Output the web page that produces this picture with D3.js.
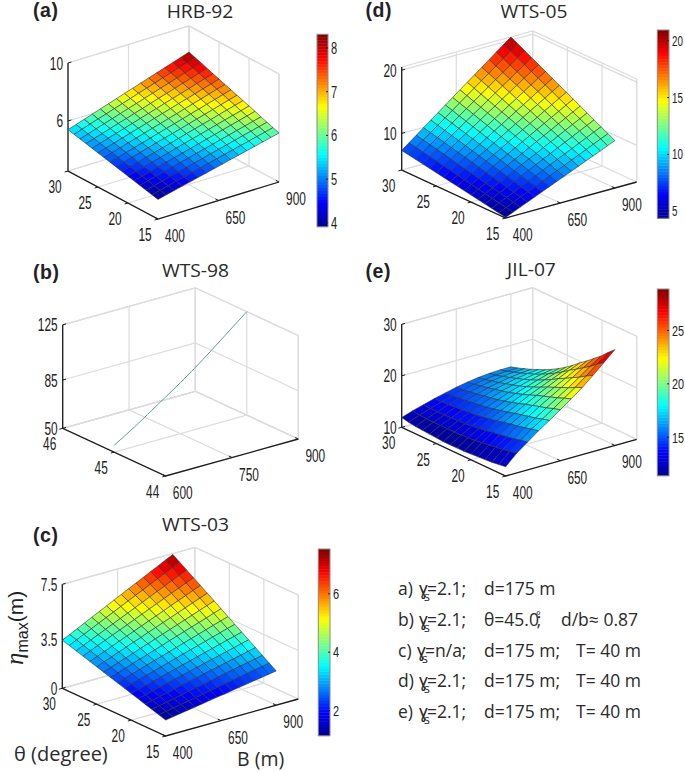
<!DOCTYPE html>
<html>
<head>
<meta charset="utf-8">
<script src="https://cdn.jsdelivr.net/npm/d3@7"></script>
<style>
  html, body { margin: 0; padding: 0; background: #fff; }
  svg { display: block; }
  text { font-family: "Liberation Sans", Arial, sans-serif; fill: #222; }
  .label { font-family: "Open Sans", sans-serif; fill: #2a2a2a; }
</style>
</head>
<body>
<svg id="chart" width="685" height="772"></svg>
<script>
// angle and width values along the surface grids
var thetaNodes = [15, 16, 17, 18, 19, 20, 21, 22, 23, 24, 25, 26, 27, 28, 29, 30];
var bNodes = [400, 433.3, 466.7, 500, 533.3, 566.7, 600, 633.3, 666.7, 700, 733.3, 766.7, 800, 833.3, 866.7, 900];
var bNodesCoarse = [400, 450, 500, 550, 600, 650, 700, 750, 800, 850, 900];

// eta_max, rows follow thetaNodes, columns follow bNodes
var hrb92 = [
  [3.90, 4.04, 4.17, 4.31, 4.44, 4.58, 4.71, 4.85, 4.98, 5.12, 5.25, 5.39, 5.52, 5.66, 5.79, 5.93],
  [4.00, 4.14, 4.28, 4.42, 4.55, 4.69, 4.83, 4.97, 5.11, 5.25, 5.39, 5.53, 5.66, 5.80, 5.94, 6.08],
  [4.10, 4.24, 4.38, 4.53, 4.67, 4.81, 4.95, 5.09, 5.24, 5.38, 5.52, 5.66, 5.81, 5.95, 6.09, 6.23],
  [4.20, 4.35, 4.49, 4.64, 4.78, 4.93, 5.07, 5.22, 5.36, 5.51, 5.66, 5.80, 5.95, 6.09, 6.24, 6.38],
  [4.30, 4.45, 4.60, 4.75, 4.90, 5.05, 5.19, 5.34, 5.49, 5.64, 5.79, 5.94, 6.09, 6.24, 6.39, 6.54],
  [4.40, 4.55, 4.70, 4.86, 5.01, 5.16, 5.31, 5.47, 5.62, 5.77, 5.92, 6.08, 6.23, 6.38, 6.53, 6.69],
  [4.50, 4.66, 4.81, 4.97, 5.12, 5.28, 5.43, 5.59, 5.75, 5.90, 6.06, 6.21, 6.37, 6.53, 6.68, 6.84],
  [4.60, 4.76, 4.92, 5.08, 5.24, 5.40, 5.56, 5.71, 5.87, 6.03, 6.19, 6.35, 6.51, 6.67, 6.83, 6.99],
  [4.70, 4.86, 5.03, 5.19, 5.35, 5.51, 5.68, 5.84, 6.00, 6.16, 6.33, 6.49, 6.65, 6.81, 6.98, 7.14],
  [4.80, 4.97, 5.13, 5.30, 5.46, 5.63, 5.80, 5.96, 6.13, 6.29, 6.46, 6.63, 6.79, 6.96, 7.13, 7.29],
  [4.90, 5.07, 5.24, 5.41, 5.58, 5.75, 5.92, 6.09, 6.26, 6.43, 6.60, 6.76, 6.93, 7.10, 7.27, 7.44],
  [5.00, 5.17, 5.35, 5.52, 5.69, 5.86, 6.04, 6.21, 6.38, 6.56, 6.73, 6.90, 7.07, 7.25, 7.42, 7.59],
  [5.10, 5.28, 5.45, 5.63, 5.81, 5.98, 6.16, 6.33, 6.51, 6.69, 6.86, 7.04, 7.22, 7.39, 7.57, 7.74],
  [5.20, 5.38, 5.56, 5.74, 5.92, 6.10, 6.28, 6.46, 6.64, 6.82, 7.00, 7.18, 7.36, 7.54, 7.72, 7.90],
  [5.30, 5.48, 5.67, 5.85, 6.03, 6.22, 6.40, 6.58, 6.77, 6.95, 7.13, 7.32, 7.50, 7.68, 7.86, 8.05],
  [5.40, 5.59, 5.77, 5.96, 6.15, 6.33, 6.52, 6.71, 6.89, 7.08, 7.27, 7.45, 7.64, 7.83, 8.01, 8.20]
];
var wts03 = [
  [1.15, 1.24, 1.33, 1.41, 1.50, 1.59, 1.68, 1.77, 1.85, 1.94, 2.03, 2.12, 2.21, 2.29, 2.38, 2.47],
  [1.30, 1.40, 1.50, 1.60, 1.70, 1.80, 1.90, 2.00, 2.10, 2.20, 2.30, 2.40, 2.50, 2.60, 2.70, 2.80],
  [1.46, 1.57, 1.68, 1.79, 1.91, 2.02, 2.13, 2.24, 2.35, 2.46, 2.58, 2.69, 2.80, 2.91, 3.02, 3.13],
  [1.61, 1.73, 1.86, 1.98, 2.10, 2.23, 2.35, 2.47, 2.60, 2.72, 2.84, 2.97, 3.09, 3.21, 3.34, 3.46],
  [1.77, 1.90, 2.04, 2.17, 2.31, 2.44, 2.58, 2.71, 2.85, 2.98, 3.12, 3.25, 3.39, 3.52, 3.66, 3.79],
  [1.92, 2.07, 2.21, 2.36, 2.51, 2.65, 2.80, 2.95, 3.09, 3.24, 3.39, 3.53, 3.68, 3.83, 3.97, 4.12],
  [2.08, 2.24, 2.40, 2.55, 2.71, 2.87, 3.03, 3.19, 3.35, 3.51, 3.66, 3.82, 3.98, 4.14, 4.30, 4.45],
  [2.23, 2.40, 2.57, 2.74, 2.91, 3.08, 3.25, 3.42, 3.59, 3.76, 3.93, 4.10, 4.27, 4.44, 4.61, 4.78],
  [2.39, 2.57, 2.75, 2.94, 3.12, 3.30, 3.48, 3.66, 3.85, 4.03, 4.21, 4.39, 4.57, 4.75, 4.94, 5.12],
  [2.54, 2.73, 2.93, 3.12, 3.31, 3.51, 3.70, 3.90, 4.09, 4.28, 4.48, 4.67, 4.86, 5.06, 5.25, 5.45],
  [2.70, 2.91, 3.11, 3.32, 3.52, 3.73, 3.93, 4.14, 4.34, 4.55, 4.75, 4.96, 5.16, 5.37, 5.57, 5.78],
  [2.85, 3.07, 3.28, 3.50, 3.72, 3.94, 4.15, 4.37, 4.59, 4.80, 5.02, 5.24, 5.46, 5.67, 5.89, 6.11],
  [3.01, 3.24, 3.47, 3.70, 3.93, 4.15, 4.38, 4.61, 4.84, 5.07, 5.30, 5.53, 5.76, 5.98, 6.21, 6.44],
  [3.16, 3.40, 3.64, 3.88, 4.12, 4.36, 4.60, 4.84, 5.08, 5.33, 5.57, 5.81, 6.05, 6.29, 6.53, 6.77],
  [3.32, 3.57, 3.82, 4.08, 4.33, 4.58, 4.83, 5.09, 5.34, 5.59, 5.84, 6.10, 6.35, 6.60, 6.85, 7.10],
  [3.47, 3.73, 4.00, 4.26, 4.53, 4.79, 5.05, 5.32, 5.58, 5.85, 6.11, 6.37, 6.64, 6.90, 7.17, 7.43]
];
var wts05 = [
  [4.30, 4.79, 5.29, 5.78, 6.27, 6.77, 7.26, 7.75, 8.25, 8.74, 9.23, 9.73, 10.22, 10.71, 11.21, 11.70],
  [4.50, 5.02, 5.54, 6.06, 6.58, 7.10, 7.61, 8.13, 8.65, 9.17, 9.69, 10.21, 10.73, 11.25, 11.77, 12.29],
  [4.70, 5.24, 5.79, 6.33, 6.88, 7.42, 7.97, 8.51, 9.06, 9.60, 10.15, 10.69, 11.24, 11.78, 12.33, 12.87],
  [4.90, 5.47, 6.04, 6.61, 7.18, 7.75, 8.32, 8.89, 9.47, 10.04, 10.61, 11.18, 11.75, 12.32, 12.89, 13.46],
  [5.10, 5.70, 6.29, 6.89, 7.49, 8.08, 8.68, 9.28, 9.87, 10.47, 11.07, 11.66, 12.26, 12.86, 13.45, 14.05],
  [5.30, 5.92, 6.54, 7.17, 7.79, 8.41, 9.03, 9.65, 10.28, 10.90, 11.52, 12.14, 12.76, 13.39, 14.01, 14.63],
  [5.50, 6.15, 6.80, 7.44, 8.09, 8.74, 9.39, 10.04, 10.68, 11.33, 11.98, 12.63, 13.28, 13.92, 14.57, 15.22],
  [5.70, 6.37, 7.05, 7.72, 8.40, 9.07, 9.74, 10.42, 11.09, 11.77, 12.44, 13.11, 13.79, 14.46, 15.14, 15.81],
  [5.90, 6.60, 7.30, 8.00, 8.70, 9.40, 10.10, 10.80, 11.50, 12.20, 12.90, 13.60, 14.30, 15.00, 15.70, 16.40],
  [6.10, 6.83, 7.55, 8.28, 9.00, 9.73, 10.45, 11.18, 11.90, 12.63, 13.35, 14.08, 14.80, 15.53, 16.26, 16.98],
  [6.30, 7.05, 7.80, 8.55, 9.31, 10.06, 10.81, 11.56, 12.31, 13.06, 13.81, 14.56, 15.32, 16.07, 16.82, 17.57],
  [6.50, 7.28, 8.05, 8.83, 9.61, 10.39, 11.16, 11.94, 12.72, 13.49, 14.27, 15.05, 15.83, 16.60, 17.38, 18.16],
  [6.70, 7.50, 8.31, 9.11, 9.91, 10.71, 11.52, 12.32, 13.12, 13.93, 14.73, 15.53, 16.33, 17.14, 17.94, 18.74],
  [6.90, 7.73, 8.56, 9.39, 10.21, 11.04, 11.87, 12.70, 13.53, 14.36, 15.19, 16.02, 16.84, 17.67, 18.50, 19.33],
  [7.10, 7.95, 8.81, 9.66, 10.52, 11.37, 12.23, 13.08, 13.94, 14.79, 15.65, 16.50, 17.36, 18.21, 19.07, 19.92],
  [7.30, 8.18, 9.06, 9.94, 10.82, 11.70, 12.58, 13.46, 14.34, 15.22, 16.10, 16.98, 17.86, 18.74, 19.62, 20.50]
];
// columns follow bNodesCoarse
var jil07 = [
  [11.8, 13.8, 15.4, 17.0, 18.4, 19.9, 21.4, 23.0, 24.8, 26.7, 28.6],
  [11.6, 13.54, 15.11, 16.69, 18.05, 19.48, 20.92, 22.41, 24.03, 25.74, 27.4],
  [11.4, 13.27, 14.77, 16.31, 17.62, 18.99, 20.34, 21.70, 23.16, 24.66, 26.1],
  [11.3, 13.09, 14.55, 16.04, 17.30, 18.62, 19.89, 21.14, 22.44, 23.77, 25.0],
  [11.2, 12.91, 14.31, 15.75, 16.97, 18.20, 19.40, 20.53, 21.69, 22.85, 23.9],
  [11.1, 12.74, 14.09, 15.47, 16.63, 17.80, 18.94, 19.96, 21.00, 22.02, 22.9],
  [11.0, 12.54, 13.81, 15.13, 16.23, 17.32, 18.38, 19.29, 20.20, 21.07, 21.8],
  [11.0, 12.44, 13.63, 14.86, 15.89, 16.90, 17.87, 18.69, 19.49, 20.21, 20.8],
  [11.0, 12.34, 13.46, 14.61, 15.57, 16.51, 17.41, 18.14, 18.82, 19.43, 19.9],
  [11.0, 12.26, 13.30, 14.39, 15.28, 16.16, 16.98, 17.63, 18.23, 18.74, 19.1],
  [11.1, 12.27, 13.22, 14.24, 15.07, 15.87, 16.63, 17.20, 17.71, 18.12, 18.4],
  [11.2, 12.28, 13.17, 14.12, 14.90, 15.63, 16.32, 16.82, 17.26, 17.60, 17.8],
  [11.3, 12.29, 13.11, 13.98, 14.69, 15.36, 15.98, 16.43, 16.79, 17.06, 17.2],
  [11.4, 12.31, 13.07, 13.87, 14.53, 15.14, 15.71, 16.10, 16.40, 16.62, 16.7],
  [11.6, 12.41, 13.08, 13.80, 14.38, 14.93, 15.42, 15.75, 16.00, 16.16, 16.2],
  [11.9, 12.6, 13.2, 13.8, 14.3, 14.8, 15.2, 15.5, 15.7, 15.8, 15.8]
];

// WTS-98 is a single curve at theta = 45
var wts98B = [600, 650, 700, 750, 800, 850, 900];
var wts98Eta = [55, 65, 76, 87, 99, 112, 125];

var legendTags = ["a)", "b)", "c)", "d)", "e)"];
var legendGammas = ["=2.1;", "=2.1;", "=n/a;", "=2.1;", "=2.1;"];
var legendSecond = ["d=175 m", "θ=45.0", "d=175 m;", "d=175 m;", "d=175 m;"];
var legendThird = ["", "d/b≈ 0.87", "T= 40 m", "T= 40 m", "T= 40 m"];

var jetStops = [0, 0.125, 0.375, 0.625, 0.875, 1];
var jetColors = ["#00008f", "#0000ff", "#00ffff", "#ffff00", "#ff0000", "#800000"];

var panels = [
  { tag: "(a)", tagX: 33, tagY: 17, title: "HRB-92", titleX: 200, titleY: 18,
    front: [158, 219], left: [68, 171], right: [279, 182], h: 108,
    bDomain: [400, 900], thetaDomain: [15, 30], zDomain: [2.55, 10],
    bTicks: [400, 650, 900], thetaTicks: [15, 20, 25, 30], zTicks: [6, 10],
    grid: hrb92, bGrid: bNodes,
    bar: { x: 317, w: 11, y: 34.3, y2: 226.7, domain: [3.9, 8.3], ticks: [4, 5, 6, 7, 8], size: 17, sx: 0.65 } },
  { tag: "(d)", tagX: 365.5, tagY: 17, title: "WTS-05", titleX: 534, titleY: 18,
    front: [505.7, 218], left: [401.7, 170], right: [636.7, 182], h: 103,
    bDomain: [400, 1000], thetaDomain: [15, 30], zDomain: [4.2, 20.5],
    bTicks: [400, 650, 900], thetaTicks: [15, 20, 25, 30], zTicks: [10, 20],
    grid: wts05, bGrid: bNodes,
    bar: { x: 657.3, w: 11.7, y: 30, y2: 218.3, domain: [4.33, 20.9], ticks: [5, 10, 15, 20], size: 14, sx: 0.7 } },
  { tag: "(b)", tagX: 33, tagY: 279, title: "WTS-98", titleX: 195.5, titleY: 277,
    front: [165.7, 476], left: [62.7, 428.3], right: [298.3, 439], h: 103.5,
    bDomain: [600, 900], thetaDomain: [44, 46], zDomain: [50, 125],
    bTicks: [600, 750, 900], thetaTicks: [44, 45, 46], zTicks: [50, 85, 125],
    line: { b: wts98B, eta: wts98Eta, theta: 45 } },
  { tag: "(e)", tagX: 365.5, tagY: 278, title: "JIL-07", titleX: 531.5, titleY: 276,
    front: [505.7, 476], left: [401.7, 427.3], right: [636.7, 439.3], h: 103,
    bDomain: [400, 1000], thetaDomain: [15, 30], zDomain: [10, 30],
    bTicks: [400, 650, 900], thetaTicks: [15, 20, 25, 30], zTicks: [10, 20, 30],
    grid: jil07, bGrid: bNodesCoarse,
    bar: { x: 657.3, w: 11.7, y: 289, y2: 475.7, domain: [11.35, 28.84], ticks: [15, 20, 25], size: 15, sx: 0.72 } },
  { tag: "(c)", tagX: 33, tagY: 542, title: "WTS-03", titleX: 195.5, titleY: 531,
    front: [165.7, 736], left: [62.3, 688.3], right: [298.3, 699], h: 104,
    bDomain: [400, 1000], thetaDomain: [15, 30], zDomain: [0, 7.5],
    bTicks: [400, 650, 900], thetaTicks: [15, 20, 25, 30], zTicks: [0, 3.5, 7.5],
    grid: wts03, bGrid: bNodes,
    bar: { x: 318.3, w: 11.7, y: 549, y2: 735.7, domain: [1.12, 7.52], ticks: [2, 4, 6], size: 14.5, sx: 0.76 } }
];

var svg = d3.select("#chart");
var defs = svg.append("defs");
defs.append("filter").attr("id", "soft").append("feGaussianBlur").attr("stdDeviation", 0.35);

var jet = d3.scaleLinear().domain(jetStops).range(jetColors);
var GRID = "#dcdce0", AXIS = "#1c1c1c";
var TICK_SIZE = 18, TICK_SX = 0.66;

// narrow tick label, the original figure was squeezed sideways
function tickText(g, x, y, txt, anchor)
{
  return g.append("text")
          .attr("transform", "translate(" + x + "," + y + ") scale(" + TICK_SX + ",1)")
          .attr("text-anchor", anchor)
          .attr("font-size", TICK_SIZE)
          .text(txt);
}

function drawPanel(p)
{
  var g = svg.append("g");
  var xS = d3.scaleLinear().domain(p.bDomain).range([0, 1]);
  var yS = d3.scaleLinear().domain(p.thetaDomain).range([0, 1]);
  var zS = d3.scaleLinear().domain(p.zDomain).range([0, 1]);
  var rx = p.right[0] - p.front[0], ry = p.right[1] - p.front[1];
  var lx = p.left[0] - p.front[0], ly = p.left[1] - p.front[1];

  function project(b, t, z)
  {
    return [p.front[0] + xS(b) * rx + yS(t) * lx,
            p.front[1] + xS(b) * ry + yS(t) * ly - zS(z) * p.h];
  }

  var bLo = p.bDomain[0], bHi = p.bDomain[1];
  var tLo = p.thetaDomain[0], tHi = p.thetaDomain[1];
  var zLo = p.zDomain[0], zHi = p.zDomain[1];
  var lineGen = d3.line();

  function gridLine(pts, color, width)
  {
    g.append("path").attr("d", lineGen(pts)).attr("fill", "none")
     .attr("stroke", color || GRID).attr("stroke-width", width || 1.2);
  }

  // walls and floor behind the surface
  p.zTicks.concat([zLo, zHi]).forEach(function(z)
  {
    gridLine([project(bLo, tHi, z), project(bHi, tHi, z), project(bHi, tLo, z)]);
  });
  p.bTicks.forEach(function(b)
  {
    gridLine([project(b, tHi, zHi), project(b, tHi, zLo), project(b, tLo, zLo)]);
  });
  p.thetaTicks.forEach(function(t)
  {
    gridLine([project(bHi, t, zHi), project(bHi, t, zLo), project(bLo, t, zLo)]);
  });
  gridLine([project(bHi, tHi, zLo), project(bHi, tHi, zHi)]);
  gridLine([project(bHi, tLo, zLo), project(bHi, tLo, zHi)]);

  // black front axes
  gridLine([project(bLo, tHi, zHi), project(bLo, tHi, zLo), project(bLo, tLo, zLo), project(bHi, tLo, zLo)], AXIS, 1.3);
  p.zTicks.forEach(function(z)
  {
    var a = project(bLo, tHi, z), n = Math.hypot(rx, ry);
    gridLine([a, [a[0] + 3.5 * rx / n, a[1] + 3.5 * ry / n]], AXIS, 1);
    tickText(g, a[0] - 5, a[1] + 6.5, String(z), "end");
  });
  p.thetaTicks.forEach(function(t)
  {
    var a = project(bLo, t, zLo), n = Math.hypot(rx, ry);
    gridLine([a, [a[0] - 3.5 * rx / n, a[1] - 3.5 * ry / n]], AXIS, 1);
    tickText(g, a[0] - 13, a[1] + 22, String(t), "middle");
  });
  p.bTicks.forEach(function(b)
  {
    var a = project(b, tLo, zLo), n = Math.hypot(lx, ly);
    gridLine([a, [a[0] + 3.5 * lx / n, a[1] + 3.5 * ly / n]], AXIS, 1);
    tickText(g, a[0] + 17, a[1] + 23, String(b), "middle");
  });

  // surface cells back to front
  if (p.grid)
  {
    var cells = [];
    for (var i = thetaNodes.length - 2; i >= 0; i--)
    {
      for (var j = p.bGrid.length - 2; j >= 0; j--)
      {
        cells.push({ i: i, j: j });
      }
    }
    var colorS = d3.scaleLinear().domain(p.bar.domain).range([0, 1]).clamp(true);
    g.append("g")
     .attr("filter", "url(#soft)")
     .selectAll("path")
     .data(cells)
     .enter()
     .append("path")
     .attr("d", function(c)
     {
       return lineGen([
         project(p.bGrid[c.j], thetaNodes[c.i], p.grid[c.i][c.j]),
         project(p.bGrid[c.j + 1], thetaNodes[c.i], p.grid[c.i][c.j + 1]),
         project(p.bGrid[c.j + 1], thetaNodes[c.i + 1], p.grid[c.i + 1][c.j + 1]),
         project(p.bGrid[c.j], thetaNodes[c.i + 1], p.grid[c.i + 1][c.j])
       ]) + "Z";
     })
     .attr("fill", function(c)
     {
       var v = (p.grid[c.i][c.j] + p.grid[c.i][c.j + 1] + p.grid[c.i + 1][c.j + 1] + p.grid[c.i + 1][c.j]) / 4;
       return jet(colorS(v));
     })
     .attr("stroke", "#333")
     .attr("stroke-width", 0.6)
     .attr("stroke-linejoin", "round");
  }

  if (p.line)
  {
    var pts = p.line.b.map(function(b, i) { return project(b, p.line.theta, p.line.eta[i]); });
    g.append("path").attr("d", d3.line().curve(d3.curveMonotoneX)(pts))
     .attr("fill", "none").attr("stroke", "#5f9f96").attr("stroke-width", 1);
  }

  g.append("text").attr("x", p.tagX).attr("y", p.tagY)
   .attr("font-size", 19.5).attr("font-weight", "bold").attr("letter-spacing", 0.6).text(p.tag);
  g.append("text").attr("class", "label")
   .attr("transform", "translate(" + p.titleX + "," + p.titleY + ") scale(1.1,1)")
   .attr("text-anchor", "middle").attr("font-size", 17.5).text(p.title);

  if (p.bar) drawColorbar(p.bar);
}

function drawColorbar(b)
{
  var g = svg.append("g");
  var yS = d3.scaleLinear().domain(b.domain).range([b.y2, b.y]);
  var levels = d3.range(64);
  var levelH = (b.y2 - b.y) / 64;
  g.selectAll("rect.lvl")
   .data(levels)
   .enter()
   .append("rect")
   .attr("class", "lvl")
   .attr("x", b.x)
   .attr("width", b.w)
   .attr("y", function(d) { return b.y2 - (d + 1) * levelH; })
   .attr("height", levelH + 0.4)
   .attr("fill", function(d) { return jet((d + 0.5) / 64); });
  g.append("rect").attr("x", b.x).attr("y", b.y).attr("width", b.w).attr("height", b.y2 - b.y)
   .attr("fill", "none").attr("stroke", "#8a8a8a").attr("stroke-width", 1);

  var axis = d3.axisRight(yS).tickValues(b.ticks).tickFormat(String).tickSizeInner(-2).tickSizeOuter(0);
  var ag = g.append("g").attr("transform", "translate(" + (b.x + b.w) + ",0)").call(axis);
  ag.select(".domain").remove();
  ag.selectAll("line").attr("stroke", "#222");
  ag.selectAll("text")
    .attr("x", null).attr("dy", null)
    .attr("font-family", "Liberation Sans")
    .attr("font-size", b.size)
    .attr("fill", "#222")
    .attr("transform", "translate(3," + (b.size * 0.36) + ") scale(" + b.sx + ",1)");
}

panels.forEach(drawPanel);

// axis titles
var etaLabel = svg.append("text").attr("transform", "translate(23,665) rotate(-90)").attr("fill", "#222");
etaLabel.append("tspan").attr("font-family", "Liberation Serif").attr("font-style", "italic").attr("font-size", 25).text("η");
etaLabel.append("tspan").attr("font-size", 16).attr("dy", 5).text("max");
etaLabel.append("tspan").attr("font-size", 21).attr("dy", -5).text("(m)");

svg.append("text").attr("class", "label").attr("x", 14).attr("y", 761).attr("font-size", 20).text("θ (degree)");
svg.append("text").attr("class", "label").attr("x", 237).attr("y", 766).attr("font-size", 19.5).text("B (m)");

// parameter list
var legendBase = [595, 626, 656.5, 687, 717.5];
var legend = svg.append("g");
function legendText(x, y, txt)
{
  return legend.append("text").attr("class", "label").attr("x", x).attr("y", y)
               .attr("font-size", 17.5).text(txt);
}
legendTags.forEach(function(tag, i)
{
  var y = legendBase[i];
  legendText(398, y, tag);

  // gamma with its subscript sits partly under the letter, all one text
  var gamma = legendText(i === 2 ? 417 : 419, y, "ɣ");
  gamma.append("tspan").attr("font-size", 13).attr("dx", -4).attr("dy", 6).text("s");
  gamma.append("tspan").attr("dx", -3).attr("dy", -6).text(legendGammas[i]);

  var second = legendText(484, y, legendSecond[i]);
  if (i === 1)
  {
    second.append("tspan").attr("font-size", 11).attr("dx", -3).attr("dy", -7).text("°");
    second.append("tspan").attr("dx", -4).attr("dy", 7).text(";");
    legendText(561, y, legendThird[i]);
  }
  else if (legendThird[i])
  {
    legendText(576, y, legendThird[i]);
  }
});
</script>
</body>
</html>
